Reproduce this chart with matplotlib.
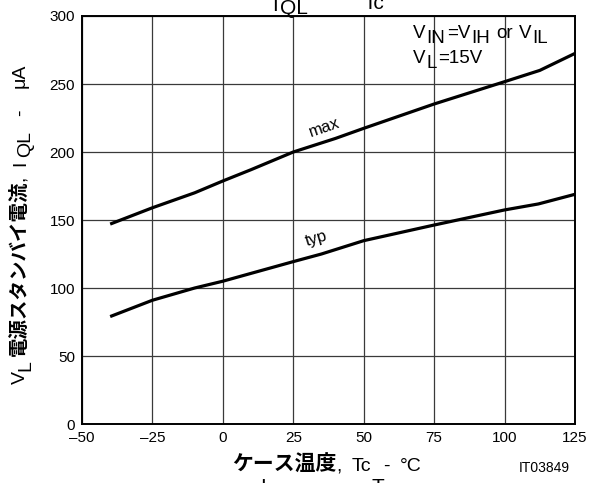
import matplotlib
matplotlib.use("Agg")
import matplotlib.pyplot as plt
from matplotlib.transforms import IdentityTransform

plt.rcParams['font.family'] = ['Liberation Sans', 'Noto Sans CJK JP', 'DejaVu Sans']

# Case temperature Tc (°C) and standby current IQL (µA)
temp_max = [-40, -30, -25, -10, 0, 10, 25, 40, 50, 75, 100, 112.5, 125]
iql_max = [147, 155, 159, 170, 178.7, 187, 200, 210, 217.4, 235.3, 251.7, 260, 272.5]
temp_typ = [-40, -25, -10, 0, 25, 35, 50, 75, 100, 112, 125]
iql_typ = [79, 91, 100, 105, 119.4, 125, 134.8, 146.3, 157.4, 161.8, 168.9]

xticks = [-50, -25, 0, 25, 50, 75, 100, 125]
xtick_labels = ['–50', '–25', '0', '25', '50', '75', '100', '125']
yticks = [0, 50, 100, 150, 200, 250, 300]

W, H = 589, 483
fig = plt.figure(figsize=(W / 100, H / 100), dpi=100)
ax = fig.add_axes([82 / W, (H - 424) / H, 493 / W, 408 / H])

ax.plot(temp_max, iql_max, color='black', lw=2.3, solid_capstyle='butt')
ax.plot(temp_typ, iql_typ, color='black', lw=2.3, solid_capstyle='butt')

ax.set_xlim(-50, 125)
ax.set_ylim(0, 300)
ax.set_xticks(xticks)
ax.set_xticklabels(xtick_labels)
ax.set_yticks(yticks)
ax.tick_params(length=0, labelsize=11, pad=5)
ax.grid(True, color='#3a3a3a', lw=0.9)
for s in ax.spines.values():
    s.set_linewidth(1.4)

ax.text(37, 213, 'max', rotation=19, fontsize=12, ha='center', va='bottom',
        rotation_mode='anchor')
ax.text(34, 131, 'typ', rotation=16.5, fontsize=12, ha='center', va='bottom',
        rotation_mode='anchor')

fig.canvas.draw()
renderer = fig.canvas.get_renderer()
ident = IdentityTransform()


def runs(x, y, parts, size, rotation=0):
    """Draw text pieces one after another starting at pixel (x, y from top).
    parts: (text, weight, size, drop, gap) where drop lowers the piece."""
    py = H - y
    px = x
    for text, weight, fs, drop, gap in parts:
        fs = fs or size
        if rotation == 0:
            t = fig.text(px, py - drop, text, fontsize=fs, fontweight=weight,
                         transform=ident, ha='left', va='baseline')
            bb = t.get_window_extent(renderer)
            px = bb.x1 + gap
        else:
            t = fig.text(px + drop, py, text, fontsize=fs, fontweight=weight,
                         transform=ident, ha='left', va='baseline', rotation=90,
                         rotation_mode='anchor')
            bb = t.get_window_extent(renderer)
            py = bb.y1 + gap


# Test conditions
runs(413, 38, [('V', 'normal', None, 0, 1), ('IN', 'normal', None, 5, 2),
               ('=V', 'normal', None, 0, 1), ('IH', 'normal', None, 5, 6),
               ('or', 'normal', None, 0, 6), ('V', 'normal', None, 0, 1),
               ('IL', 'normal', None, 5, 0)], 13.5)
runs(413, 63, [('V', 'normal', None, 0, 1), ('L', 'normal', None, 5, 1),
               ('=15V', 'normal', None, 0, 0)], 13.5)

# Y axis label
runs(25, 384, [('V', 'normal', None, 0, 0), ('L', 'normal', None, 5, 4),
               ('電源スタンバイ電流', 'bold', 14, 0, 0), (',', 'normal', None, 0, 9),
               ('I', 'normal', None, 0, 4), ('QL', 'normal', None, 5, 15),
               ('-', 'normal', None, 0, 22), ('μA', 'normal', None, 0, 0)], 14, rotation=90)

# X axis label
runs(232, 471, [('ケース温度', 'bold', 15, 0, 0), (',', 'normal', None, 0, 10),
                ('Tc', 'normal', None, 0, 12), ('-', 'normal', None, 0, 10),
                ('°C', 'normal', None, 0, 0)], 14)

fig.text(544, H - 472, 'IT03849', fontsize=10, transform=ident, ha='center', va='baseline')

# Title fragments at the top and bottom edges
runs(272, 11, [('I', 'normal', None, 0, 2), ('QL', 'normal', None, 3, 0)], 15)
runs(364, 9, [('Tc', 'normal', None, 0, 0)], 15)
fig.text(260, H - 478, 'I', fontsize=15, transform=ident, ha='left', va='top')
fig.text(372, H - 478, 'T', fontsize=15, transform=ident, ha='left', va='top')

fig.savefig('out.png', dpi=100)
